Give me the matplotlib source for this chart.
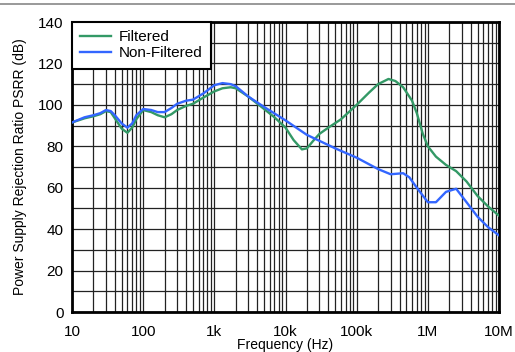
import matplotlib.pyplot as plt
import numpy as np
from matplotlib.lines import Line2D
from matplotlib.ticker import FixedLocator, NullFormatter

plt.rcParams['font.family'] = ['Liberation Sans', 'DejaVu Sans']

# Filtered curve (Hz, dB)
filt_f = [10, 15, 20, 25, 30, 35, 40, 50, 60, 70, 80, 100, 130, 160, 200, 250, 300, 400, 500, 700,
          1e3, 1.3e3, 1.7e3, 2e3, 3e3, 5e3, 7e3, 1e4, 1.3e4, 1.7e4, 2e4, 2.5e4, 3e4, 4e4, 6e4,
          1e5, 1.5e5, 2e5, 2.8e5, 3.5e5, 4.5e5, 6e5, 7e5, 8.5e5, 1e6, 1.3e6, 1.8e6, 2.5e6, 3.5e6,
          5e6, 7e6, 1e7]
filt_db = [91.5, 93.5, 94.5, 95.5, 97, 96.5, 93.5, 88.5, 86.5, 89, 93, 97.5, 96.5, 95, 94, 95.5, 97.5, 99.5, 100.5, 103.5,
           106.5, 108, 108.5, 108, 104, 98, 94, 89, 83, 78.5, 79, 83, 86, 89, 93,
           100, 106, 110, 112.5, 111.5, 108.5, 102, 96, 86, 80, 75, 71, 68, 63,
           56, 51, 46.5]

# Non-filtered curve (Hz, dB)
nonf_f = [10, 15, 20, 25, 30, 35, 40, 50, 60, 70, 80, 100, 130, 160, 200, 250, 300, 400, 500, 700,
          1e3, 1.3e3, 1.7e3, 2e3, 3e3, 5e3, 1e4, 2e4, 5e4, 1e5, 2e5, 3e5, 4.5e5, 5.5e5, 7e5,
          1e6, 1.3e6, 1.8e6, 2.5e6, 3.5e6, 5e6, 7e6, 1e7]
nonf_db = [91.5, 94, 95, 96, 97.5, 97, 95, 91, 89, 91, 95, 98, 97.5, 96.5, 96.5, 98.5, 100.5, 102, 102.5, 105.5,
           109.5, 110.5, 110, 109, 104, 99, 92.5, 85.5, 79, 74.5, 69, 66.5, 67, 65, 60,
           53, 53, 58, 59.5, 53, 46, 41, 37]

xticks = [10, 100, 1e3, 1e4, 1e5, 1e6, 1e7]
xlabels = ['10', '100', '1k', '10k', '100k', '1M', '10M']

fig = plt.figure(figsize=(5.15, 3.52), dpi=100)
ax = fig.add_axes([72/515, 1-312/352, 427/515, 290/352])

ax.plot(filt_f, filt_db, color='#339966', lw=1.7, label='Filtered', zorder=3)
ax.plot(nonf_f, nonf_db, color='#3366ff', lw=1.7, label='Non-Filtered', zorder=3)

ax.set_xscale('log')
ax.set_xlim(10, 1e7)
ax.set_ylim(0, 140)
ax.set_xticks(xticks)
ax.set_xticklabels(xlabels)
minors = [m * 10**d for d in range(1, 7) for m in range(2, 10)]
ax.xaxis.set_minor_locator(FixedLocator(minors))
ax.xaxis.set_minor_formatter(NullFormatter())
ax.set_yticks(np.arange(0, 141, 20))
ax.yaxis.set_minor_locator(FixedLocator(np.arange(10, 140, 20)))
ax.grid(True, which='both', color='#222222', lw=0.9)
ax.tick_params(which='both', length=0, labelsize=11)
ax.tick_params(axis='x', pad=9)
ax.tick_params(axis='y', pad=6)
for s in ax.spines.values():
    s.set_linewidth(2)

ax.set_xlabel('Frequency (Hz)', fontsize=10, labelpad=0)
ax.set_ylabel('Power Supply Rejection Ratio PSRR (dB)', fontsize=10, labelpad=8)

leg = ax.legend(loc='upper left', fontsize=11, frameon=True, fancybox=False,
                borderaxespad=0, handlelength=2.0, handletextpad=0.5,
                borderpad=0.55, labelspacing=0.12)
leg.get_frame().set_edgecolor('black')
leg.get_frame().set_linewidth(1.5)
leg.get_frame().set_alpha(1)

fig.add_artist(Line2D([0, 1], [1-4/352, 1-4/352], color='#888888', lw=1.2))

plt.savefig('out.png', dpi=100)
